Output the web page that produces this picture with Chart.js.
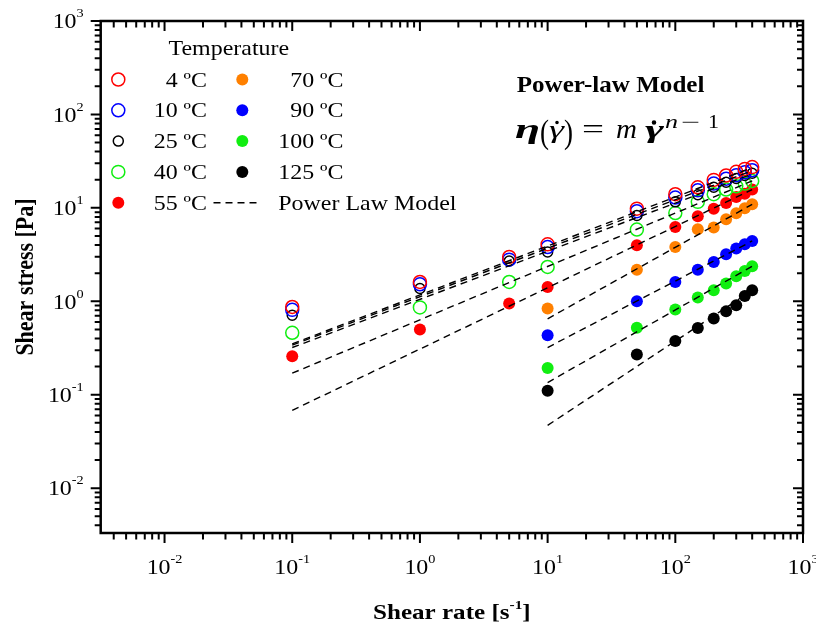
<!DOCTYPE html>
<html>
<head>
<meta charset="utf-8">
<script src="https://cdn.jsdelivr.net/npm/chart.js@4.4.1/dist/chart.umd.min.js"></script>
<style>
  html, body { margin: 0; padding: 0; background: #fff; }
  canvas { display: block; }
</style>
</head>
<body>
<canvas id="chart" width="816" height="629"></canvas>
<script>
// shear rate [1/s]
const ratesLow = [0.1, 1, 5, 10, 50, 100, 150, 200, 250, 300, 350, 400]
const ratesHigh = [10, 50, 100, 150, 200, 250, 300, 350, 400]

// measured shear stress [Pa]
const stress4 = [0.87, 1.61, 2.98, 4.07, 9.8, 14.0, 16.6, 19.9, 22.2, 24.3, 26.1, 27.3]
const stress10 = [0.81, 1.52, 2.79, 3.81, 9.2, 12.9, 15.4, 18.2, 20.5, 22.4, 24.0, 25.3]
const stress25 = [0.71, 1.37, 2.7, 3.37, 8.3, 11.6, 13.8, 16.6, 18.8, 20.6, 22.2, 23.5]
const stress40 = [0.46, 0.86, 1.61, 2.33, 5.86, 8.8, 11.6, 14.0, 15.7, 17.0, 18.2, 19.4]
const stress55 = [0.258, 0.50, 0.945, 1.42, 3.98, 6.24, 8.13, 9.8, 11.3, 13.1, 14.2, 15.7]
const stress70 = [0.835, 2.18, 3.81, 5.9, 6.15, 7.55, 8.75, 9.9, 10.9]
const stress90 = [0.433, 1.0, 1.61, 2.18, 2.64, 3.19, 3.67, 4.08, 4.42]
const stress100 = [0.193, 0.52, 0.815, 1.10, 1.31, 1.55, 1.85, 2.11, 2.37]
const stress125 = [0.11, 0.27, 0.376, 0.518, 0.653, 0.78, 0.906, 1.14, 1.31]

// power law fits, straight on log-log axes: stress at the first and last rate
const fitRatesLow = [0.1, 400]
const fitRatesHigh = [10, 400]
const fit4 = [0.35, 27.0]
const fit10 = [0.34, 25.0]
const fit25 = [0.32, 23.0]
const fit40 = [0.17, 19.4]
const fit55 = [0.068, 15.7]
const fit70 = [0.65, 10.9]
const fit90 = [0.32, 4.42]
const fit100 = [0.135, 2.37]
const fit125 = [0.047, 1.31]

const tempLabels = ["4 ºC", "10 ºC", "25 ºC", "40 ºC", "55 ºC", "70 ºC", "90 ºC", "100 ºC", "125 ºC"]
const xExponents = [-2, -1, 0, 1, 2, 3]
const yExponents = [-2, -1, 0, 1, 2, 3]

const RED = "#ff0000", BLUE = "#0000ff", GREEN = "#11ee11", ORANGE = "#ff8000", BLACK = "#000000"
const SERIF = '"Liberation Serif", "Times New Roman", serif'
const SX = 1.14 // text in this figure is drawn wider than tall

function points(label, xs, ys, color, filled, radius) {
  return {
    label,
    data: xs.map((x, i) => ({ x, y: ys[i] })),
    pointRadius: radius,
    pointHoverRadius: radius,
    pointBackgroundColor: filled ? color : "rgba(0,0,0,0)",
    pointBorderColor: color,
    pointBorderWidth: filled ? 0 : 1.5,
    showLine: false,
    order: 2,
    _filled: filled
  }
}

function fit(xs, ys) {
  return {
    label: "Power Law Model",
    data: xs.map((x, i) => ({ x, y: ys[i] })),
    showLine: true,
    borderColor: BLACK,
    borderWidth: 1.4,
    borderDash: [7, 5],
    pointRadius: 0,
    order: 1
  }
}

const series = [
  points(tempLabels[0], ratesLow, stress4, RED, false, 6.5),
  points(tempLabels[1], ratesLow, stress10, BLUE, false, 6.5),
  points(tempLabels[2], ratesLow, stress25, BLACK, false, 5),
  points(tempLabels[3], ratesLow, stress40, GREEN, false, 6.5),
  points(tempLabels[4], ratesLow, stress55, RED, true, 6),
  points(tempLabels[5], ratesHigh, stress70, ORANGE, true, 6),
  points(tempLabels[6], ratesHigh, stress90, BLUE, true, 6),
  points(tempLabels[7], ratesHigh, stress100, GREEN, true, 6),
  points(tempLabels[8], ratesHigh, stress125, BLACK, true, 6)
]

const fits = [
  fit(fitRatesLow, fit4), fit(fitRatesLow, fit10), fit(fitRatesLow, fit25),
  fit(fitRatesLow, fit40), fit(fitRatesLow, fit55),
  fit(fitRatesHigh, fit70), fit(fitRatesHigh, fit90), fit(fitRatesHigh, fit100), fit(fitRatesHigh, fit125)
]

function text(ctx, str, x, y, font, align, sx) {
  ctx.save()
  ctx.font = font
  ctx.textAlign = align || "left"
  ctx.textBaseline = "alphabetic"
  ctx.translate(x, y)
  ctx.scale(sx || SX, 1)
  ctx.fillText(str, 0, 0)
  ctx.restore()
}

function width(ctx, str, font) {
  ctx.font = font
  return ctx.measureText(str).width * SX
}

// glyph squeezed or widened to run from x0 to x1
function glyph(ctx, str, x0, x1, baseline, font) {
  ctx.save()
  ctx.font = font
  ctx.textAlign = "left"
  const w = ctx.measureText(str).width
  ctx.translate(x0, baseline)
  ctx.scale((x1 - x0) / w, 1)
  ctx.fillText(str, 0, 0)
  ctx.restore()
}

function logTicks(min, max) {
  const out = []
  for (let e = Math.floor(Math.log10(min)); e <= Math.ceil(Math.log10(max)); e++) {
    for (let k = 1; k <= 9; k++) {
      const v = k * Math.pow(10, e)
      if (v >= min * 0.999 && v <= max * 1.001) out.push({ v, major: k === 1 })
    }
  }
  return out
}

const baseFont = "21px " + SERIF
const supFont = "12.5px " + SERIF

function power(ctx, exp, left, baseline) {
  text(ctx, "10", left, baseline, baseFont)
  text(ctx, String(exp), left + width(ctx, "10", baseFont), baseline - 11, supFont)
}

// frame, ticks on all four sides, tick labels and axis titles
const axes = {
  id: "axes",
  afterDatasetsDraw(chart) {
    const { ctx, chartArea: a, scales: { x, y } } = chart
    ctx.save()
    ctx.strokeStyle = BLACK
    ctx.fillStyle = BLACK

    ctx.lineWidth = 2
    ctx.beginPath()
    for (const t of logTicks(x.min, x.max)) {
      const px = x.getPixelForValue(t.v)
      const len = t.major ? 10 : 6.5
      ctx.moveTo(px, a.bottom); ctx.lineTo(px, a.bottom + len)
      ctx.moveTo(px, a.top); ctx.lineTo(px, a.top + len)
    }
    for (const t of logTicks(y.min, y.max)) {
      const py = y.getPixelForValue(t.v)
      const len = t.major ? 10 : 6
      ctx.moveTo(a.left, py); ctx.lineTo(a.left - len, py)
      ctx.moveTo(a.right, py); ctx.lineTo(a.right - len, py)
    }
    ctx.stroke()

    ctx.lineWidth = 2.5
    ctx.strokeRect(a.left, a.top, a.right - a.left, a.bottom - a.top)

    for (const e of xExponents) {
      const px = x.getPixelForValue(Math.pow(10, e))
      const w = width(ctx, "10", baseFont) + width(ctx, String(e), supFont)
      power(ctx, e, px - w / 2, a.bottom + 41)
    }
    for (const e of yExponents) {
      const py = y.getPixelForValue(Math.pow(10, e))
      const w = width(ctx, "10", baseFont) + width(ctx, String(e), supFont)
      power(ctx, e, a.left - 17 - w, py + 7.3)
    }

    // x title with superscript
    const tf = "bold 22px " + SERIF
    const sf = "bold 13.5px " + SERIF
    const p1 = "Shear rate [s", p2 = "-1", p3 = "]"
    const tw = width(ctx, p1, tf) + width(ctx, p2, sf) + width(ctx, p3, tf)
    let tx = (a.left + a.right) / 2 - tw / 2
    const ty = 619
    text(ctx, p1, tx, ty, tf); tx += width(ctx, p1, tf)
    text(ctx, p2, tx, ty - 10, sf); tx += width(ctx, p2, sf)
    text(ctx, p3, tx, ty, tf)

    // y title, rotated
    ctx.save()
    ctx.translate(33, (a.top + a.bottom) / 2)
    ctx.rotate(-Math.PI / 2)
    ctx.scale(1, SX)
    ctx.font = tf
    ctx.textAlign = "center"
    ctx.fillText("Shear stress [Pa]", 0, 0)
    ctx.restore()

    ctx.restore()
  }
}

function marker(ctx, ds, cx, cy) {
  ctx.beginPath()
  ctx.arc(cx, cy, ds.pointRadius, 0, Math.PI * 2)
  if (ds._filled) {
    ctx.fillStyle = ds.pointBorderColor
    ctx.fill()
  } else {
    ctx.lineWidth = ds.pointBorderWidth
    ctx.strokeStyle = ds.pointBorderColor
    ctx.stroke()
  }
}

// two-column legend with title, plus the model line entry
const legendBox = {
  id: "legendBox",
  afterDraw(chart) {
    const ctx = chart.ctx
    const f = "21px " + SERIF
    ctx.save()
    ctx.fillStyle = BLACK
    text(ctx, "Temperature", 168.5, 55, f)
    const rowY = i => 79.5 + i * 30.8
    series.forEach((ds, i) => {
      const col = i < 5 ? 0 : 1
      const row = i < 5 ? i : i - 5
      const cy = rowY(row)
      marker(ctx, ds, col ? 242.3 : 118.3, cy)
      ctx.fillStyle = BLACK
      text(ctx, ds.label, col ? 343.5 : 207, cy + 7, f, "right")
    })
    const cy = rowY(4)
    ctx.strokeStyle = BLACK
    ctx.lineWidth = 1.4
    ctx.setLineDash([7, 5])
    ctx.beginPath()
    ctx.moveTo(213.5, cy); ctx.lineTo(257, cy)
    ctx.stroke()
    ctx.setLineDash([])
    ctx.fillStyle = BLACK
    text(ctx, "Power Law Model", 278.3, cy + 7, f)
    ctx.restore()
  }
}

// model name and the power law expression
const modelNote = {
  id: "modelNote",
  afterDraw(chart) {
    const ctx = chart.ctx
    ctx.save()
    ctx.fillStyle = BLACK
    text(ctx, "Power-law Model", 516.7, 91.7, "bold 23px " + SERIF, "left", 1.09)
    const b = 138
    glyph(ctx, "η", 515, 540, b, `bold italic 28px ${SERIF}`)
    glyph(ctx, "(", 540, 549, b + 5, `33px ${SERIF}`)
    glyph(ctx, "γ", 549, 564, b, `italic 26px ${SERIF}`)
    glyph(ctx, ")", 564, 573, b + 5, `33px ${SERIF}`)
    glyph(ctx, "=", 582, 604, b, `28px ${SERIF}`)
    glyph(ctx, "m", 616, 637, b, `italic 27px ${SERIF}`)
    glyph(ctx, "γ", 645, 664, b, `bold italic 26px ${SERIF}`)
    glyph(ctx, "n", 665, 678, 128, `italic 18px ${SERIF}`)
    glyph(ctx, "−", 681, 700, 128, `18px ${SERIF}`)
    glyph(ctx, "1", 708, 719, 128, `18px ${SERIF}`)
    ctx.beginPath()
    ctx.arc(557, 122.5, 1.8, 0, Math.PI * 2)
    ctx.arc(654, 122.5, 2.3, 0, Math.PI * 2)
    ctx.fill()
    ctx.restore()
  }
}

new Chart(document.getElementById("chart"), {
  type: "scatter",
  data: { datasets: [...fits, ...series] },
  options: {
    responsive: false,
    animation: false,
    devicePixelRatio: 1,
    events: [],
    layout: { padding: { left: 100.7, right: 13, top: 21, bottom: 96 } },
    scales: {
      x: { type: "logarithmic", min: Math.pow(10, -2.5), max: 1000, bounds: "data", display: false },
      y: { type: "logarithmic", min: Math.pow(10, -2.48), max: 1000, bounds: "data", display: false }
    },
    plugins: { legend: { display: false }, tooltip: { enabled: false } }
  },
  plugins: [axes, legendBox, modelNote]
})
</script>
</body>
</html>
